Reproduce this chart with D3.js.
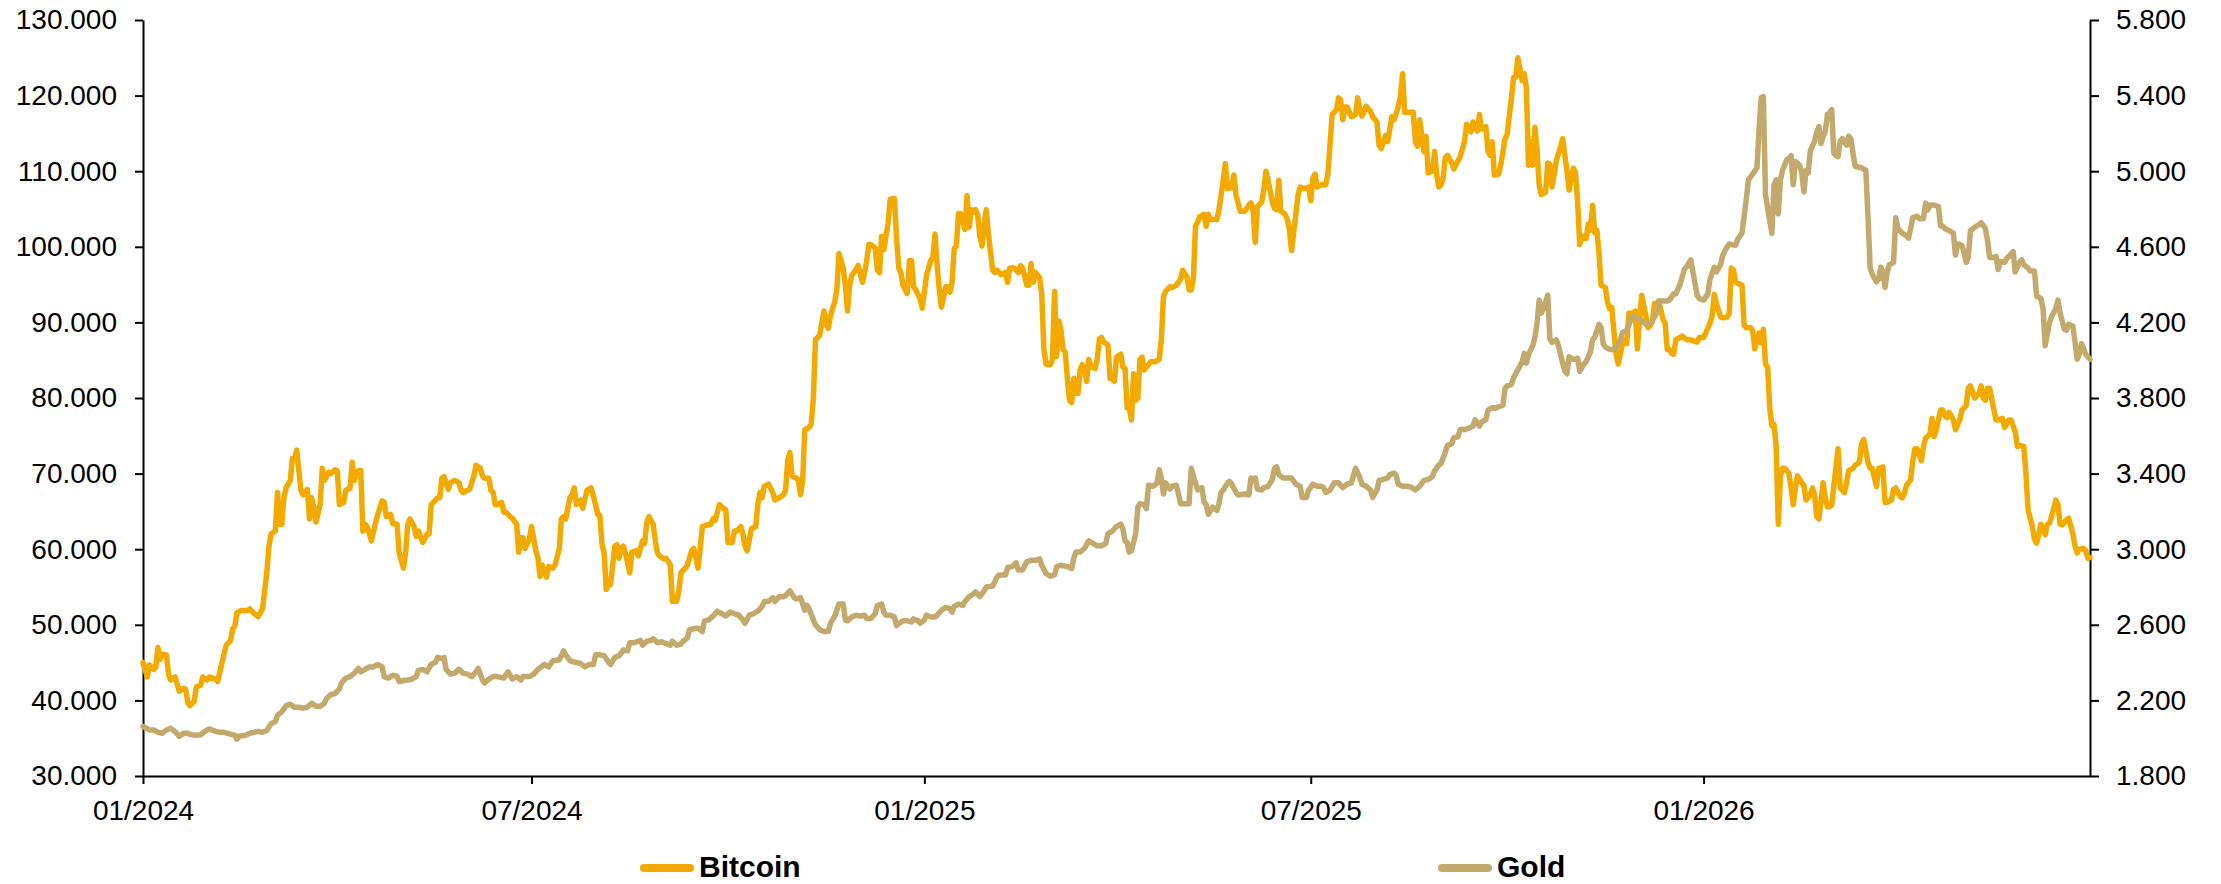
<!DOCTYPE html>
<html>
<head>
<meta charset="utf-8">
<script src="https://cdn.jsdelivr.net/npm/d3@7"></script>
<style>
  html, body { margin: 0; padding: 0; background: #fff; }
  svg { display: block; font-family: "Liberation Sans", Arial, sans-serif; }
</style>
</head>
<body>
<svg id="chart" width="2221" height="884"></svg>
<script>
// Daily closes, days counted from 1 Jan 2024
const startDate = new Date(2024, 0, 1);
const endDate = new Date(2026, 6, 1);

const btcDay = [0,2,3,5,6,7,8,9,11,12,13,15,17,19,20,21,22,24,25,27,28,30,31,34,35,37,39,41,42,43,44,46,49,50,52,54,56,58,59,60,62,63,64,65,66,67,69,70,71,72,73,74,75,77,78,79,80,81,83,84,85,87,88,90,91,92,94,95,97,98,99,101,102,103,104,105,107,109,110,112,113,114,116,117,119,120,122,123,124,125,127,128,129,131,132,133,134,135,137,138,139,140,141,143,144,146,148,149,150,152,153,155,156,158,159,160,162,163,164,165,166,168,169,170,172,173,175,176,177,178,179,181,182,184,185,186,187,189,190,192,193,195,196,197,198,200,201,202,203,205,206,208,210,212,213,214,215,216,217,218,219,221,222,223,224,225,226,228,
229,231,232,234,235,236,237,239,240,241,242,244,245,247,248,250,251,252,254,255,257,258,260,261,262,264,266,267,268,270,271,273,274,276,277,278,280,281,282,283,285,287,288,289,290,291,293,295,296,298,300,301,302,303,304,306,307,308,309,310,312,313,314,315,317,319,320,321,322,323,324,325,326,328,329,330,331,332,333,335,337,338,339,340,341,343,344,345,346,347,348,349,350,352,353,354,355,356,358,359,360,361,362,364,365,366,367,369,370,371,372,373,374,376,377,378,379,380,381,382,383,385,386,387,388,389,390,391,392,393,394,395,396,398,399,400,401,402,404,405,406,408,409,410,411,412,414,415,416,417,418,420,421,422,423,424,425,426,427,428,429,430,431,432,433,434,435,436,437,438,439,440,441,442,443,444,446,447,448,449,450,452,453,454,455,456,458,
459,460,461,462,463,464,465,466,467,468,469,470,471,472,474,476,477,478,479,481,482,484,486,487,489,490,491,492,493,494,495,497,498,499,500,503,504,505,506,507,508,510,511,512,514,516,518,519,520,521,522,524,525,526,527,529,530,531,532,533,535,536,537,538,540,541,542,544,546,547,548,549,550,552,554,555,556,557,559,560,561,562,563,564,566,568,569,570,571,573,575,576,578,579,580,582,583,585,586,588,589,590,591,593,595,596,597,598,600,601,602,604,605,606,607,608,609,610,611,613,614,616,617,619,620,622,623,625,626,627,629,630,631,632,633,635,636,638,639,641,642,643,644,646,647,648,649,650,651,652,653,654,655,657,658,659,660,661,662,664,665,666,667,668,670,671,672,673,674,676,677,678,679,680,681,682,683,685,686,687,
688,689,690,691,693,694,695,696,697,698,699,700,701,702,703,705,706,707,708,709,710,712,713,714,715,716,717,718,720,721,723,725,726,728,729,731,732,734,735,736,737,739,740,742,743,744,745,746,749,750,751,753,754,755,757,758,759,760,761,762,763,764,765,766,767,768,769,771,772,773,774,775,777,778,779,781,782,783,784,785,787,788,789,790,791,792,794,795,796,797,798,799,801,802,803,804,805,806,808,809,810,812,813,814,815,816,817,819,820,821,823,824,825,826,828,829,830,831,833,834,835,837,838,839,840,842,843,844,845,846,848,849,851,852,854,855,856,858,859,860,861,862,863,864,865,867,868,869,871,872,874,875,877,878,879,881,882,883,885,886,887,888,889,891,892,893,894,896,897,898,899,901,902,904,905,906,907,909,910,911,912];

const btcValue = [45000,43100,44700,44100,44400,47000,45400,46100,46000,43400,42700,43100,41200,41600,41500,39700,39300,39900,41800,42000,43100,42700,43100,42800,42500,45000,47300,47900,49500,49800,51600,51900,51900,52100,51500,51100,52100,56900,60400,62000,62400,67500,63300,63300,66800,68100,69100,72000,72000,73100,70400,67800,67200,67900,64000,66800,65600,63600,65900,70700,69100,70200,70000,70500,70400,65900,66200,67800,68100,71500,69100,70400,70400,62400,63300,63000,61100,63600,64600,66400,66200,64300,64600,63400,63300,59500,57500,59500,63300,64000,63000,61700,62400,60900,61400,62000,62000,65900,66500,66800,66800,69400,69600,67900,68800,69100,68800,67800,67500,67800,67900,69700,71100,70700,69700,69400,69400,67800,67500,65900,65900,66200,64900,64900,64300,64100,63300,59600,61500,61500,60100,61400,63000,59800,58800,56400,57900,56300,57700,57500,57900,60100,64000,64300,64000,66800,67200,68100,65900,66500,65400,67800,68100,65900,64600,64500,60700,59500,54700,55300,55300,60400,60600,58800,60100,60400,59500,56900,
59600,59800,59100,61100,60800,63600,64300,63300,61100,59500,59100,58700,58800,57900,53100,53100,54500,56900,57500,57900,59800,60100,57500,60100,63000,63200,63300,64000,63800,65900,65600,65200,60900,60900,62400,62400,63000,62000,60400,59800,62700,63000,65900,67500,66800,68300,68600,67500,66500,66800,67200,67800,71700,72800,69700,69400,69200,67200,69100,75800,76100,76500,80000,87700,88300,91500,89900,89200,90800,91800,92700,94300,99100,97200,94900,91500,94900,96200,96600,97500,95300,96600,98200,100300,100300,99800,96900,96600,101400,99600,101400,103100,106300,106400,101100,97200,96600,94900,93800,98200,98200,94700,94300,93100,91900,94000,96200,98200,98600,101700,97500,94300,92000,94700,94700,94000,95300,99800,100100,104400,104400,102300,106800,102600,104900,104600,104900,104200,101400,100100,103000,104900,101700,96900,96600,96900,96600,96300,96600,95300,97200,97200,96900,96600,97500,97200,94900,94900,97800,95300,96600,95900,93700,86400,84500,84400,84400,85100,94100,85500,90200,89000,86400,86100,82600,79700,79400,82600,80600,80600,83800,84400,83800,82200,85100,84100,83900,85200,87800,88000,87400,87000,82600,82600,82200,85400,85800,
84100,83900,78700,78700,77100,83200,79700,80000,85100,85400,83700,84100,84400,84800,84800,85100,87700,93400,94100,94700,94600,94900,95700,96900,96000,94300,94300,95700,102700,103300,104000,104300,102700,104300,103600,103600,104900,106800,108800,111000,107700,107900,109500,106800,104700,104700,105500,105800,104700,100600,105300,105900,107500,110000,108800,105900,105100,104900,108800,104700,104300,103600,102300,99500,104300,106800,107900,107700,107900,106100,109100,109600,107900,108200,108200,109600,113400,117500,118100,119700,119400,116800,118500,118500,117200,117500,119700,118100,117300,118600,117900,117200,116500,113400,113000,114700,113900,117200,116800,118500,119900,122900,117800,117800,117800,113900,113300,116800,112600,114600,109800,110000,112600,109500,107900,108200,109000,111800,112100,111100,110300,111400,111900,113900,116200,115200,116500,115300,117500,115600,115900,112700,112100,113900,109500,109600,110800,114300,114900,119700,122400,122400,125000,122000,122900,121000,110800,113900,110800,115800,112700,108200,106900,107200,111100,110900,107900,109500,111400,113200,114300,112100,110100,107500,110400,109800,105900,100300,101400,101100,103000,102200,105500,101900,102200,99200,94900,94600,92700,91800,
92000,88800,85800,84500,87100,87700,87200,91200,91200,91200,91500,86500,90200,93600,92200,89300,89600,90100,92500,92500,92800,90400,89900,86400,86400,85900,85800,87700,88000,88200,87700,87700,87600,87400,88000,88000,88600,89900,90800,93700,92500,90700,90600,90700,91200,97200,96900,95300,94900,89600,89300,89300,88900,86500,88600,87300,89100,84500,84100,78700,76300,76500,73600,63300,69700,70700,70700,70000,68100,65900,68100,69700,68800,68400,66500,67200,68100,67200,64300,64000,68800,66800,65600,65600,65800,68300,73300,68100,67800,67500,68800,70400,70700,71100,71300,71500,73900,74500,71500,70700,70700,68300,70700,70700,70900,66200,66200,66500,67900,68100,67000,66800,67300,68400,69200,71700,73300,73300,71700,73600,74700,75200,77300,74900,75800,78400,78400,77700,77400,78100,77100,75800,77100,78400,79000,81300,81600,80000,80300,80600,81600,80000,79700,81300,81300,78400,77100,77100,77300,76100,77100,77100,75500,73600,73700,73600,70000,65200,63000,61300,60800,62000,63300,61900,63300,63400,64300,66500,65900,63300,63200,63900,64100,62000,60400,59500,60000,60100,59800,58800,58900];

const goldDay = [0,3,5,7,9,11,13,15,17,19,21,22,24,27,29,31,34,36,38,41,43,44,45,48,50,52,54,56,58,60,62,63,65,67,69,71,73,75,77,79,81,83,85,86,88,90,92,93,95,97,99,101,102,104,106,108,110,112,113,115,117,119,120,122,124,126,128,129,131,133,135,137,138,140,141,142,144,146,148,150,152,154,156,157,159,160,162,164,166,169,171,173,175,177,178,181,183,185,188,190,192,195,197,198,200,202,205,207,209,211,212,214,216,218,219,221,223,225,227,228,
230,232,233,234,236,238,239,241,243,245,247,248,250,252,253,255,256,259,260,262,263,265,267,269,271,273,275,277,279,281,282,284,286,288,290,291,293,295,296,298,300,301,303,305,306,308,310,311,312,314,315,317,319,321,322,324,325,326,328,329,330,332,334,336,338,339,341,343,344,346,347,348,350,352,353,354,356,358,360,361,363,364,366,367,369,371,372,374,376,378,379,380,382,384,385,387,389,390,392,394,395,398,400,401,404,405,407,409,410,412,414,416,418,420,421,423,425,427,428,430,433,435,436,437,439,441,443,445,447,449,451,452,454,456,458,
459,460,461,462,463,465,466,467,469,470,471,473,474,475,476,477,478,479,481,482,484,485,486,488,490,491,493,494,496,497,498,499,501,503,504,505,506,508,509,510,512,513,516,518,519,520,521,522,524,525,527,529,530,531,532,534,536,538,540,542,543,545,546,548,550,552,553,554,556,558,560,562,564,566,567,568,570,571,573,575,576,578,579,581,583,584,586,587,588,590,592,594,596,598,600,602,604,605,607,608,610,611,613,614,616,617,619,621,623,624,626,627,629,630,632,633,635,637,638,639,641,642,644,646,647,648,649,651,652,653,654,655,656,658,659,660,662,663,664,665,666,667,668,670,671,672,673,675,676,678,679,680,682,683,684,685,687,
689,690,692,693,695,697,698,700,702,704,706,707,709,710,712,714,715,717,718,720,722,723,725,726,728,729,731,733,734,736,737,739,740,742,743,746,747,749,750,751,752,754,756,757,758,759,760,761,762,763,764,765,766,767,768,770,771,772,773,774,776,777,778,779,780,781,783,784,785,786,787,788,789,790,791,792,793,794,795,796,798,799,800,801,802,805,807,808,809,810,812,813,814,815,816,817,818,820,821,822,824,826,827,828,829,831,832,834,835,836,837,839,841,842,843,844,846,848,849,850,852,853,854,855,856,858,860,861,863,864,865,867,868,869,870,872,873,874,876,877,879,880,881,883,884,886,887,888,889,890,891,893,894,896,897,898,900,901,902,904,905,906,907,908,909,910,912];

const goldValue = [2062,2044,2044,2031,2026,2044,2052,2036,2010,2026,2026,2021,2016,2018,2036,2049,2036,2031,2031,2021,2016,1995,2010,2016,2026,2031,2036,2031,2041,2077,2087,2121,2139,2172,2180,2164,2164,2159,2164,2185,2169,2169,2185,2210,2231,2236,2262,2292,2318,2326,2344,2369,2351,2364,2377,2377,2390,2377,2326,2318,2333,2328,2300,2305,2308,2313,2326,2359,2364,2351,2390,2403,2428,2421,2428,2364,2339,2344,2364,2344,2339,2326,2351,2369,2308,2292,2313,2326,2326,2318,2351,2313,2326,2308,2326,2326,2339,2364,2390,2377,2410,2415,2462,2441,2410,2403,2395,2377,2390,2390,2441,2441,2436,2403,2390,2428,2436,2467,2462,2505,
2505,2513,2518,2492,2513,2518,2526,2505,2510,2500,2492,2513,2492,2498,2513,2531,2574,2582,2582,2564,2621,2626,2646,2672,2659,2646,2667,2659,2651,2626,2608,2651,2659,2672,2697,2723,2723,2744,2723,2749,2749,2754,2780,2744,2736,2744,2677,2703,2685,2626,2600,2574,2564,2564,2608,2646,2677,2710,2710,2626,2621,2641,2651,2646,2651,2633,2633,2659,2703,2710,2667,2651,2651,2641,2595,2608,2621,2621,2615,2631,2621,2608,2626,2651,2641,2641,2651,2677,2692,2685,2667,2697,2710,2703,2723,2749,2762,2774,2749,2780,2800,2805,2851,2864,2864,2903,2908,2928,2890,2890,2933,2941,2941,2949,2915,2872,2857,2864,2908,2915,2908,2898,2954,2985,2985,3005,3044,3031,3018,3018,3031,3082,3095,3121,3133,
3108,3044,3036,2985,2992,3082,3223,3241,3236,3215,3339,3333,3339,3351,3421,3377,3292,3351,3318,3333,3339,3292,3241,3241,3241,3428,3351,3313,3326,3249,3236,3185,3223,3205,3241,3300,3313,3351,3359,3344,3300,3287,3292,3287,3377,3364,3377,3318,3313,3326,3333,3369,3428,3436,3395,3377,3377,3377,3344,3333,3274,3274,3313,3344,3333,3333,3326,3300,3313,3351,3351,3326,3344,3351,3390,3428,3377,3344,3333,3313,3274,3313,3364,3369,3377,3395,3403,3390,3344,3333,3333,3328,3313,3333,3364,3369,3385,3415,3446,3454,3513,3549,3557,3590,3595,3633,3633,3641,3651,3685,3651,3672,3685,3736,3749,3744,3754,3762,3851,3864,3872,3908,3949,3992,4036,3985,4031,4077,4121,4198,4318,4249,4275,4344,4113,4095,4108,4077,4031,3985,3941,3928,4018,4005,4005,4010,3941,3980,3992,4044,4108,4121,4190,4172,4087,4069,4057,
4057,4069,4108,4146,4159,4215,4236,4223,4210,4190,4198,4210,4249,4313,4313,4313,4318,4351,4351,4403,4480,4492,4531,4467,4344,4326,4318,4351,4428,4492,4467,4505,4556,4600,4615,4608,4641,4672,4762,4851,4954,4985,5018,5223,5390,5395,4877,4805,4736,4672,4928,4954,4774,4954,5005,5062,5069,5082,4928,5051,5031,4992,4890,5005,4992,5108,5159,5205,5236,5146,5185,5210,5300,5308,5326,5095,5082,5077,5159,5172,5138,5185,5172,5095,5026,5018,5005,4762,4492,4454,4415,4428,4492,4467,4385,4467,4505,4518,4754,4697,4672,4659,4646,4697,4754,4762,4749,4749,4831,4795,4821,4821,4813,4710,4710,4697,4685,4672,4556,4615,4608,4569,4518,4544,4685,4703,4718,4728,4697,4633,4544,4544,4549,4480,4523,4518,4538,4549,4574,4467,4518,4531,4505,4487,4472,4472,4338,4333,4326,4274,4077,4198,4231,4274,4318,4249,4164,4159,4190,4180,4095,4005,4031,4087,4062,4031,4005];

const seriesNames = ["Bitcoin", "Gold"];
const seriesColors = ["#F2A900", "#C4A96C"];

const xTickDates = ["2024-01-01", "2024-07-01", "2025-01-01", "2025-07-01", "2026-01-01"];
const xTickLabels = ["01/2024", "07/2024", "01/2025", "07/2025", "01/2026"];
const btcTicks = [30000, 40000, 50000, 60000, 70000, 80000, 90000, 100000, 110000, 120000, 130000];
const goldTicks = [1800, 2200, 2600, 3000, 3400, 3800, 4200, 4600, 5000, 5400, 5800];

// ---- layout ----
const W = 2221, H = 884;
const margin = { top: 20, right: 131, bottom: 108, left: 143 };
const innerW = W - margin.left - margin.right;
const innerH = H - margin.top - margin.bottom;

const svg = d3.select("#chart");
const g = svg.append("g").attr("transform", `translate(${margin.left},${margin.top})`);

const toDate = n => d3.timeDay.offset(startDate, n);
const parse = d3.timeParse("%Y-%m-%d");

const x = d3.scaleTime().domain([startDate, endDate]).range([0, innerW]);
const yBtc = d3.scaleLinear().domain([30000, 130000]).range([innerH, 0]);
const yGold = d3.scaleLinear().domain([1800, 5800]).range([innerH, 0]);

const locale = d3.formatLocale({ decimal: ",", thousands: ".", grouping: [3], currency: ["", " €"] });
const fmt = locale.format(",d");

const btcData = btcDay.map((d, i) => ({ date: toDate(d), value: btcValue[i] }));
const goldData = goldDay.map((d, i) => ({ date: toDate(d), value: goldValue[i] }));

// ---- axes ----
const axisFont = 28;
function styleAxis(sel) {
  sel.select(".domain").attr("stroke", "#000").attr("stroke-width", 2);
  sel.selectAll(".tick line").attr("stroke", "#000").attr("stroke-width", 2);
  sel.selectAll(".tick text")
    .attr("fill", "#000")
    .style("font-size", axisFont + "px")
    .style("font-family", '"Liberation Sans", Arial, sans-serif');
}

g.append("g")
  .attr("transform", `translate(0,${innerH})`)
  .call(d3.axisBottom(x)
    .tickValues(xTickDates.map(parse))
    .tickFormat((d, i) => xTickLabels[i])
    .tickSize(8).tickSizeOuter(0).tickPadding(16))
  .call(styleAxis);

g.append("g")
  .call(d3.axisLeft(yBtc).tickValues(btcTicks).tickFormat(fmt)
    .tickSize(8).tickSizeOuter(0).tickPadding(18))
  .call(styleAxis);

g.append("g")
  .attr("transform", `translate(${innerW},0)`)
  .call(d3.axisRight(yGold).tickValues(goldTicks).tickFormat(fmt)
    .tickSize(9).tickSizeOuter(0).tickPadding(17))
  .call(styleAxis);

// ---- lines ----
const lineBtc = d3.line().x(d => x(d.date)).y(d => yBtc(d.value));
const lineGold = d3.line().x(d => x(d.date)).y(d => yGold(d.value));

g.append("path")
  .datum(btcData)
  .attr("fill", "none")
  .attr("stroke", seriesColors[0])
  .attr("stroke-width", 5.5)
  .attr("stroke-linejoin", "round")
  .attr("stroke-linecap", "round")
  .attr("d", lineBtc);

g.append("path")
  .datum(goldData)
  .attr("fill", "none")
  .attr("stroke", seriesColors[1])
  .attr("stroke-width", 5.5)
  .attr("stroke-linejoin", "round")
  .attr("stroke-linecap", "round")
  .attr("d", lineGold);

// ---- legend ----
const legendX = [644, 1442];
const legend = svg.append("g");
seriesNames.forEach((name, i) => {
  const lg = legend.append("g").attr("transform", `translate(${legendX[i]},868)`);
  lg.append("line")
    .attr("x1", 0).attr("x2", 46).attr("y1", 0).attr("y2", 0)
    .attr("stroke", seriesColors[i]).attr("stroke-width", 8)
    .attr("stroke-linecap", "round");
  lg.append("text")
    .attr("x", 55).attr("y", 9)
    .attr("fill", "#000")
    .style("font-size", "30px")
    .style("font-weight", "bold")
    .style("font-family", '"Liberation Sans", Arial, sans-serif')
    .text(name);
});
</script>
</body>
</html>
